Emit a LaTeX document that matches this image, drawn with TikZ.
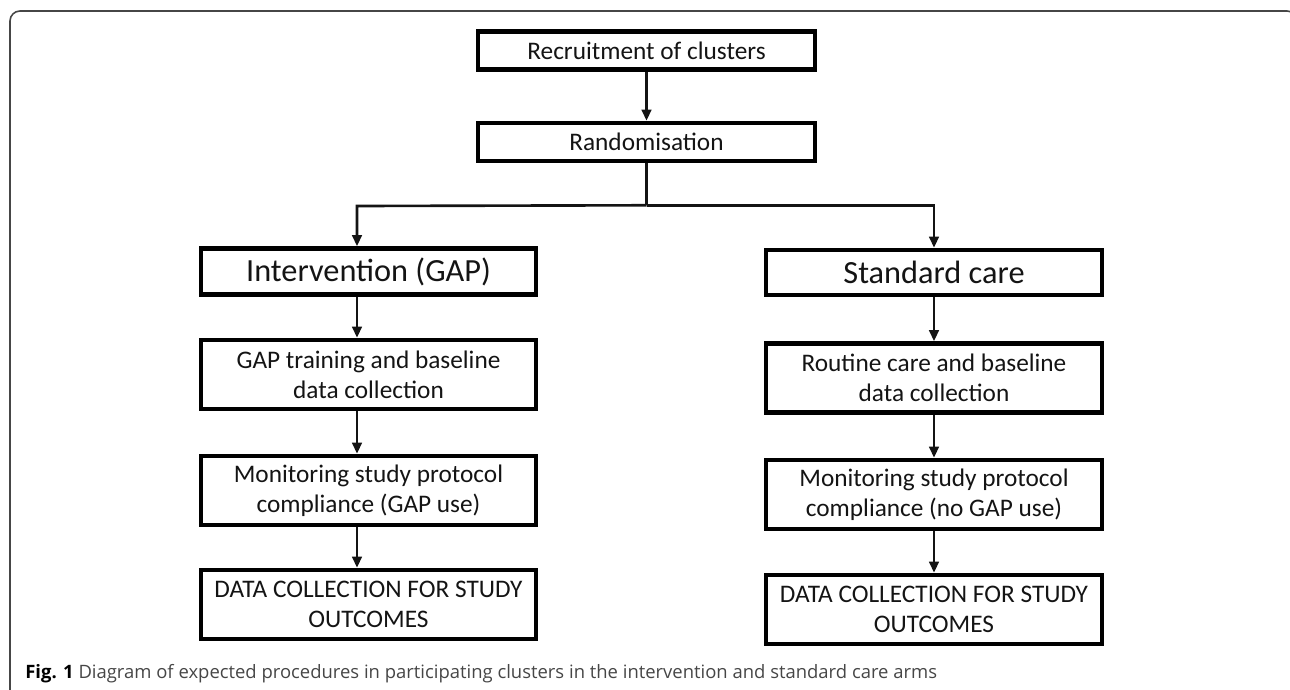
\documentclass[tikz,border=0pt]{standalone}
\usepackage{fontspec}
\usepackage{tikz}
\usetikzlibrary{arrows.meta, positioning, calc}
\newfontfamily\boxfont{Carlito}
\newfontfamily\capfont{Open Sans}
\definecolor{inkdark}{RGB}{20,20,20}
\definecolor{framegray}{RGB}{70,70,70}

\begin{document}
\begin{tikzpicture}[x=0.02cm, y=-0.02cm,
    box/.style={draw=black, line width=2.6pt, text=inkdark, minimum width=6.72cm,
        minimum height=1.38cm, align=center, inner sep=2pt,
        font=\boxfont\fontsize{14.4}{17.2}\selectfont},
    topbox/.style={box, minimum width=6.74cm, minimum height=0.77cm},
    armbox/.style={box, minimum height=0.92cm, font=\boxfont\fontsize{18.4}{22}\selectfont},
    arr/.style={-{Triangle[length=0.22cm, width=0.19cm]}, line width=1.5pt, inkdark}]
    \useasboundingbox (0,0) rectangle (1290,689);

    % Frame, cut off at the right and bottom
    \begin{scope}
        \clip (0,0) rectangle (1290,689);
        \draw[framegray, line width=0.9pt, rounded corners=0.2cm] (10,11) rectangle (1297,720);
    \end{scope}

    % Common steps
    \node[topbox] (recruit) at (646.5,50.5) {Recruitment of clusters};
    \node[topbox, minimum height=0.76cm] (random) at (646.5,142) {Randomisation};

    % Intervention arm
    \node[armbox, minimum width=6.7cm] (interv) at (368.5,271.5) {Intervention (GAP)};
    \node[box, minimum width=6.7cm] (gap) at (368.5,374.5) {GAP training and baseline\\data collection};
    \node[box, minimum width=6.7cm] (monl) at (368.5,490.5) {Monitoring study protocol\\compliance (GAP use)};
    \node[box, minimum width=6.7cm] (datal) at (368.5,604.5) {DATA COLLECTION FOR STUDY\\OUTCOMES};

    % Standard care arm
    \node[armbox, minimum height=0.9cm] (standard) at (934,272.5) {Standard care};
    \node[box] (routine) at (934,378) {Routine care and baseline\\data collection};
    \node[box] (monr) at (934,494.5) {Monitoring study protocol\\compliance (no GAP use)};
    \node[box] (datar) at (934,609.5) {DATA COLLECTION FOR STUDY\\OUTCOMES};

    % Connectors
    \coordinate (split) at ($(random.south)+(0,42)$);
    \coordinate (lft) at (357,206);
    \draw[arr] (recruit) -- (random);
    \draw[arr, -] (random.south) -- (split);
    \draw[arr] (split) -- (lft) -- (lft |- interv.north);
    \draw[arr] (split) -| (standard.north);
    \foreach \a/\b in {interv/gap, gap/monl, monl/datal}
        \draw[arr] (\a.south -| lft) -- (\b.north -| lft);
    \foreach \a/\b in {standard/routine, routine/monr, monr/datar}
        \draw[arr] (\a) -- (\b);

    % Caption
    \node[anchor=base west, inner sep=0pt, text=framegray,
        font=\capfont\fontsize{10.5}{12}\selectfont] (caption) at (25,678)
        {\textbf{\color{black}Fig. 1} Diagram of expected procedures in participating clusters in the intervention and standard care arms};
\end{tikzpicture}
\end{document}
